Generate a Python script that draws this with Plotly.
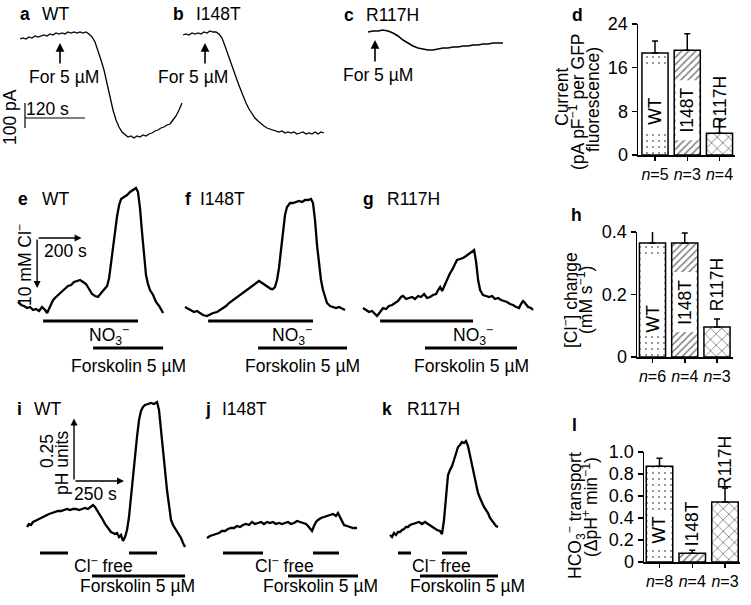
import plotly.graph_objects as go

W, H = 751, 605
FONT = "Liberation Sans, Arial, Helvetica, sans-serif"
FS = 17.5

# ---------------- data ----------------
# a-c: whole-cell current (pA) vs time (s); forskolin added at *_fsk_t
a_t = [0,6,12,18,24,30,36,42,48,54,60,66,72,78,84,90,96,102,108,114,120,126,132,138,144,150,156,162,168,174,180,186,192,198,204,210,216,222,228,234,240,246,252,258,264,270,276,282,288,294,300,306,312,318,324]
a_i = [0,4,0,8,4,12,8,12,16,12,20,16,24,20,24,20,28,24,28,24,28,24,28,20,8,-12,-44,-84,-124,-180,-236,-284,-324,-352,-372,-384,-392,-388,-396,-388,-392,-384,-388,-380,-376,-368,-364,-356,-352,-344,-340,-324,-308,-284,-256]
b_t = [0,6,12,18,24,30,36,42,48,54,60,66,72,78,84,90,96,102,108,114,120,126,132,138,144,150,156,162,168,174,180,186,192,198,204,210,216,222,228,234,240,246,252,258,264,270,276,282]
b_i = [16,20,16,24,20,24,20,28,24,32,28,28,20,4,-28,-64,-96,-128,-164,-196,-228,-256,-280,-300,-316,-328,-340,-348,-356,-360,-364,-368,-372,-368,-376,-372,-376,-372,-380,-376,-372,-380,-376,-380,-372,-380,-372,-376]
c_t = [0,10,20,30,40,50,60,70,80,90,100,110,120,130,140,150,160,170,180,190,200,210,220,230,240,250,260,270]
c_i = [28,32,32,36,32,24,12,-4,-16,-28,-36,-40,-44,-44,-40,-36,-36,-32,-32,-28,-28,-24,-24,-20,-20,-16,-16,-16]
a_fsk_t, b_fsk_t, c_fsk_t = 80, 44, 14

# d: current density
groups = ["WT", "I148T", "R117H"]
d_mean = [18.7, 19.2, 4.0]
d_sem = [2.2, 3.0, 2.6]
d_n = [5, 3, 4]

# e-g: [Cl-] change (mM) vs time (s)
e_t = [0,14,27,41,54,68,81,95,108,122,131,144,158,171,185,198,212,225,239,252,266,279,293,306,320,333,347,360,374,387,401,410,419,428,437,446,455,464,477,491,504,518,531,540,549,558,567,576,585,594,608,621,635,644,653]
e_cl = [3.6,3.0,2.8,2.4,2.6,2.0,2.2,1.8,2.6,2.0,1.4,2.8,4.0,4.6,5.2,5.8,6.2,6.8,7.0,7.6,7.8,8.0,7.6,7.2,6.2,5.2,4.8,4.6,5.4,6.0,6.8,8.4,11.6,15.0,18.4,20.8,23.0,24.2,24.6,25.0,25.6,26.0,26.4,25.6,22.4,17.6,12.4,9.0,7.2,6.0,5.0,3.6,2.8,2.0,1.4]
f_t = [0,14,27,41,54,68,81,99,113,126,144,158,171,185,198,216,230,243,257,270,284,297,311,324,333,347,360,374,387,396,405,414,423,432,441,450,459,473,486,500,513,527,540,554,567,576,585,594,603,612,621,630,639,653,666,680,693,707,720]
f_cl = [2.6,2.2,2.0,1.6,1.8,1.4,1.0,0.8,1.2,1.4,1.6,2.0,2.4,2.8,3.4,4.0,4.4,4.8,5.2,5.8,6.2,6.6,7.0,7.6,7.8,7.4,7.0,6.6,6.2,6.2,6.6,8.0,10.4,14.0,17.6,21.0,22.6,23.4,23.4,23.6,23.8,23.6,24.0,24.0,24.2,23.4,20.0,15.0,11.0,8.0,6.0,4.4,3.4,2.8,2.6,2.4,2.6,2.2,2.0]
g_t = [0,14,27,41,54,63,77,90,104,117,131,144,158,171,180,194,207,221,234,248,261,275,288,302,315,329,338,347,356,365,374,383,392,401,414,423,437,450,464,477,491,500,509,518,527,540,554,567,581,594,608,621,635,648,662,675,689,702,711,720,729,743,756,765]
g_cl = [2.4,2.0,1.6,1.8,1.2,0.8,1.6,2.4,2.2,2.8,3.0,3.4,3.8,4.6,4.8,4.2,4.4,4.6,4.2,4.8,4.6,5.2,4.4,4.6,5.0,5.2,6.0,6.6,5.8,6.8,7.8,8.6,9.4,10.0,11.4,12.0,12.2,12.4,12.8,13.2,13.6,14.0,11.6,8.0,6.0,5.0,4.8,4.6,4.8,4.2,4.4,4.0,3.8,3.6,3.2,3.0,2.6,2.4,3.2,3.8,3.4,2.6,2.4,2.0]
e_no3, e_fsk = [113, 540], [338, 653]
f_no3, f_fsk = [104, 576], [329, 729]
g_no3, g_fsk = [77, 495], [279, 693]

# h: Cl- change rate
h_mean = [0.365, 0.365, 0.096]
h_sem = [0.038, 0.032, 0.026]
h_n = [6, 4, 3]

# i-k: intracellular pH change vs time (s)
i_t = [0,10,20,30,40,50,65,80,95,110,125,140,155,170,185,200,215,230,245,260,275,290,305,320,330,340,350,360,370,380,390,400,410,420,430,440,450,460,470,480,490,500,510,520,530,540,550,560,570,580,590,605,620,635,650,660,670,680,690,700,710,720,730,740,750,760,770,780,790]
i_ph = [0.092,0.104,0.100,0.112,0.116,0.120,0.128,0.132,0.140,0.144,0.148,0.152,0.156,0.156,0.160,0.164,0.160,0.164,0.164,0.160,0.164,0.168,0.164,0.176,0.180,0.172,0.160,0.144,0.132,0.120,0.104,0.092,0.084,0.072,0.068,0.064,0.068,0.052,0.060,0.036,0.052,0.080,0.132,0.220,0.308,0.392,0.452,0.520,0.556,0.572,0.580,0.584,0.588,0.584,0.592,0.560,0.480,0.372,0.300,0.240,0.180,0.120,0.100,0.088,0.076,0.060,0.048,0.028,0.012]
j_t = [0,15,30,45,60,75,90,105,120,135,150,165,180,195,210,225,240,255,270,285,300,315,330,345,360,375,390,405,420,435,450,465,480,495,505,515,525,535,545,555,570,585,600,615,630,645,655,665,675,685,700,715,730,750]
j_ph = [0.048,0.056,0.060,0.064,0.068,0.076,0.076,0.084,0.088,0.088,0.096,0.092,0.100,0.104,0.100,0.112,0.104,0.108,0.112,0.104,0.112,0.108,0.112,0.104,0.108,0.104,0.108,0.112,0.104,0.108,0.116,0.112,0.108,0.104,0.096,0.088,0.076,0.096,0.112,0.120,0.128,0.132,0.136,0.140,0.144,0.136,0.148,0.132,0.112,0.100,0.096,0.092,0.088,0.088]
k_t = [0,10,20,30,40,50,60,70,80,90,100,115,130,145,160,175,190,205,220,235,250,260,270,280,290,300,310,320,330,340,350,360,370,380,390,400,410,420,430,440,450,460,470,480,490,500,510,520,530,540]
k_ph = [0.060,0.052,0.068,0.060,0.072,0.072,0.080,0.084,0.092,0.092,0.100,0.104,0.108,0.112,0.104,0.112,0.104,0.096,0.088,0.080,0.076,0.064,0.120,0.220,0.300,0.320,0.336,0.360,0.392,0.412,0.420,0.432,0.428,0.436,0.416,0.380,0.340,0.300,0.260,0.228,0.208,0.188,0.172,0.160,0.148,0.128,0.116,0.108,0.096,0.092]
i_clfree, i_fsk = [[65, 205], [510, 650]], [325, 790]
j_clfree, j_fsk = [[80, 280], [530, 660]], [405, 755]
k_clfree, k_fsk = [[40, 105], [260, 385]], [150, 540]

# l: HCO3- transport
l_mean = [0.87, 0.08, 0.545]
l_sem = [0.073, 0.027, 0.127]
l_n = [8, 4, 3]

# scale bars
sb_a_t, sb_a_i = 120, 100        # 120 s, 100 pA
sb_e_t, sb_e_cl = 200, 10        # 200 s, 10 mM
sb_i_t, sb_i_ph = 250, 0.25      # 250 s, 0.25 pH

# ---------------- layout helpers ----------------
def xr(x0, s):
    return [(0 - x0) * s, (W - x0) * s]

def yr(y0, s):
    return [(y0 - H) * s, y0 * s]

def P(x, y):
    return x / W, 1 - y / H

fig = go.Figure()
layout = dict(width=W, height=H, margin=dict(l=0, r=0, t=0, b=0, pad=0, autoexpand=False),
              paper_bgcolor="white", plot_bgcolor="rgba(0,0,0,0)",
              showlegend=False, font=dict(family=FONT, size=FS, color="black"))
shapes, annots = [], []

hidden = dict(visible=False, fixedrange=True, domain=[0, 1], automargin=False)
rows = {"y": (39, 4), "y2": (320, 0.2), "y3": (550, 0.004)}
row_anchor = {"y": "x", "y2": "x4", "y3": "x7"}
for k, (y0, s) in rows.items():
    layout["yaxis" + k[1:]] = dict(hidden, range=yr(y0, s), anchor=row_anchor[k])

panels = [
    ("x", "y", a_t, a_i, 20, 2, 1.3),
    ("x2", "y", b_t, b_i, 183, 2, 1.3),
    ("x3", "y", c_t, c_i, 368, 2, 1.6),
    ("x4", "y2", e_t, e_cl, 18, 4.5, 2.3),
    ("x5", "y2", f_t, f_cl, 185, 4.5, 2.3),
    ("x6", "y2", g_t, g_cl, 363, 4.5, 2.3),
    ("x7", "y3", i_t, i_ph, 27, 5, 2.3),
    ("x8", "y3", j_t, j_ph, 207, 5, 2.3),
    ("x9", "y3", k_t, k_ph, 390, 5, 2.3),
]
for xa, ya, t, v, x0, s, lw in panels:
    layout["xaxis" + xa[1:]] = dict(hidden, range=xr(x0, s), anchor=ya)
    fig.add_trace(go.Scatter(x=t, y=v, xaxis=xa, yaxis=ya, mode="lines",
                             line=dict(color="black", width=lw), hoverinfo="skip"))

def arrow(xa, ya, x0, y0, x1, y1, size=1.0, width=1.4):
    annots.append(dict(x=x1, y=y1, ax=x0, ay=y0, xref=xa, yref=ya, axref=xa, ayref=ya,
                       text="", showarrow=True, arrowhead=2, arrowsize=size, arrowwidth=width,
                       arrowcolor="black", standoff=0, startstandoff=0))

def txt(s, x, y, size=FS, angle=0, xanchor="center", yanchor="middle", xref="paper", yref="paper"):
    if xref == "paper":
        x, y = P(x, y)
    annots.append(dict(text=s, x=x, y=y, xref=xref, yref=yref, showarrow=False,
                       textangle=angle, xanchor=xanchor, yanchor=yanchor,
                       font=dict(family=FONT, size=size, color="black")))

def period(xa, t0, t1, ypx):
    y = 1 - ypx / H
    shapes.append(dict(type="line", xref=xa, yref="paper", x0=t0, x1=t1, y0=y, y1=y,
                       line=dict(color="black", width=3)))

# ---- row 1 ----
for xa, tt, lab_l, lab_r, fy, tail, tip in [
        ("x", a_fsk_t, (25, 14, "a"), (56, 14, "WT"), (64, 77), -104, -16),
        ("x2", b_fsk_t, (178, 14, "b"), (218, 14, "I148T"), (193, 77), -104, -16),
        ("x3", c_fsk_t, (349, 15, "c"), (393, 15, "R117H"), (378, 75), -96, -4)]:
    arrow(xa, "y", tt, tail, tt, tip, size=1.1, width=1.6)
    txt("For 5 µM", fy[0], fy[1])
    txt("<b>%s</b>" % lab_l[2], lab_l[0], lab_l[1])
    txt(lab_r[2], lab_r[0], lab_r[1])

sb_t0, sb_i0 = 10, -316
shapes.append(dict(type="line", xref="x", yref="y", x0=sb_t0, x1=sb_t0 + sb_a_t, y0=sb_i0, y1=sb_i0,
                   line=dict(color="black", width=1.2)))
shapes.append(dict(type="line", xref="x", yref="y", x0=sb_t0, x1=sb_t0, y0=sb_i0 + 60, y1=sb_i0 + 60 - sb_a_i,
                   line=dict(color="black", width=1.2)))
txt("%d s" % sb_a_t, 47, 109)
txt("%d pA" % sb_a_i, 10, 117, angle=-90)

# ---- row 2 ----
for xa, no3, fsk, lab_l, lab_r, no3x, fx in [
        ("x4", e_no3, e_fsk, (23, 199, "e"), (56, 199, "WT"), 109, 128),
        ("x5", f_no3, f_fsk, (188, 199, "f"), (222, 199, "I148T"), 292, 302),
        ("x6", g_no3, g_fsk, (368, 199, "g"), (413, 199, "R117H"), 473, 471)]:
    period(xa, no3[0], no3[1], 321)
    period(xa, fsk[0], fsk[1], 348)
    txt("NO<sub>3</sub><sup>−</sup>", no3x, 335)
    txt("Forskolin 5 µM", fx, 366)
    txt("<b>%s</b>" % lab_l[2], lab_l[0], lab_l[1])
    txt(lab_r[2], lab_r[0], lab_r[1])

e_t0, e_v0 = 86, 16.4
arrow("x4", "y2", e_t0, e_v0, e_t0, e_v0 - sb_e_cl)
arrow("x4", "y2", e_t0, e_v0, e_t0 + sb_e_t, e_v0)
txt("%d s" % sb_e_t, 65, 251)
txt("%d mM Cl<sup>−</sup>" % sb_e_cl, 24, 265, angle=-90)

# ---- row 3 ----
for xa, clf, fsk, lab_l, lab_r, clx, fx in [
        ("x7", i_clfree, i_fsk, (19, 409, "i"), (48, 409, "WT"), 104, 137),
        ("x8", j_clfree, j_fsk, (208, 409, "j"), (244, 409, "I148T"), 284, 320),
        ("x9", k_clfree, k_fsk, (387, 409, "k"), (433, 409, "R117H"), 441, 467)]:
    for seg in clf:
        period(xa, seg[0], seg[1], 553)
    period(xa, fsk[0], fsk[1], 576)
    txt("Cl<sup>−</sup> free", clx, 565)
    txt("Forskolin 5 µM", fx, 586)
    txt("<b>%s</b>" % lab_l[2], lab_l[0], lab_l[1])
    txt(lab_r[2], lab_r[0], lab_r[1])

i_t0, i_v0 = 235, 0.276
arrow("x7", "y3", i_t0, i_v0, i_t0, i_v0 + sb_i_ph)
arrow("x7", "y3", i_t0, i_v0, i_t0 + sb_i_t, i_v0)
txt("%.2f" % sb_i_ph, 47, 451, angle=-90)
txt("pH units", 62, 463, angle=-90)
txt("%d s" % sb_i_t, 95, 494)

# ---- bar charts ----
patterns = dict(shape=[".", "/", "x"], size=[6, 5, 8], solidity=[0.1, 0.3, 0.2],
                fgcolor="black", bgcolor="white")

def bar_panel(xa, ya, means, sems, ns, c0, sp, left, right, bottom, top, yrange, tickvals, ticktext,
              letter, letter_pos, titles, labels, bands):
    layout["xaxis" + xa[1:]] = dict(domain=[left / W, right / W], range=[(left - c0) / sp, (right - c0) / sp],
                                    anchor=ya, showline=True, linecolor="black", linewidth=1.5,
                                    ticks="outside", ticklen=4, tickwidth=1.5, tickcolor="black",
                                    tickvals=[0, 1, 2], ticktext=["<i>n</i>=%d" % n for n in ns],
                                    tickfont=dict(family=FONT, size=16), showgrid=False, zeroline=False,
                                    fixedrange=True, automargin=False)
    layout["yaxis" + ya[1:]] = dict(domain=[1 - bottom / H, 1 - top / H], range=yrange, anchor=xa,
                                    showline=True, linecolor="black", linewidth=1.5,
                                    ticks="outside", ticklen=5, tickwidth=1.5, tickcolor="black",
                                    tickvals=tickvals, ticktext=ticktext,
                                    tickfont=dict(family=FONT, size=18), showgrid=False, zeroline=False,
                                    fixedrange=True, automargin=False)
    fig.add_trace(go.Bar(x=[0, 1, 2], y=means, xaxis=xa, yaxis=ya, width=0.81,
                         marker=dict(color="white", line=dict(color="black", width=1.5), pattern=patterns),
                         error_y=dict(type="data", symmetric=False, array=sems, arrayminus=[0, 0, 0],
                                      color="black", thickness=1.5, width=3),
                         hoverinfo="skip"))
    for i, (b0, b1) in bands.items():
        shapes.append(dict(type="rect", xref=xa, yref=ya, x0=i - 0.36, x1=i + 0.36, y0=b0, y1=b1,
                           fillcolor="white", line=dict(width=0), layer="above"))
    for i, (lab, yv) in enumerate(zip(groups, labels)):
        txt(lab, i, yv, angle=-90, xref=xa, yref=ya)
    txt("<b>%s</b>" % letter, letter_pos[0], letter_pos[1])
    for s, x, y in titles:
        txt(s, x, y, angle=-90)

bar_panel("x10", "y4", d_mean, d_sem, d_n, 655, 32.25, 638, 735, 155, 24, [0, 24],
          [0, 8, 16, 24], ["0", "8", "16", "24"], "d", (577, 15),
          [("Current", 562, 97), ("(pA pF<sup>−1</sup> per GFP", 577, 102), ("fluorescence)", 593, 100)],
          [8.1, 8.2, 9.6], {0: (4.0, 16.1), 1: (2.7, 13.7)})
bar_panel("x11", "y5", h_mean, h_sem, h_n, 652.5, 32.25, 637, 733, 357, 232, [0, 0.4],
          [0, 0.2, 0.4], ["0", "0.2", "0.4"], "h", (576, 215),
          [("[Cl<sup>−</sup>] change", 570, 300), ("(mM s<sup>−1</sup>)", 585, 300)],
          [0.122, 0.176, 0.230], {0: (0.07, 0.317), 1: (0.08, 0.272)})
bar_panel("x12", "y6", l_mean, l_sem, l_n, 659.5, 32.75, 644, 740, 562, 452, [0, 1.0],
          [0, 0.2, 0.4, 0.6, 0.8, 1.0], ["0", "0.2", "0.4", "0.6", "0.8", "1.0"], "l", (574, 425),
          [("HCO<sub>3</sub><sup>−</sup> transport", 575, 516), ("(ΔpH<sup>+</sup> min<sup>−1</sup>)", 590, 507)],
          [0.29, 0.345, 0.90], {0: (0.145, 0.455)})

layout["shapes"] = shapes
layout["annotations"] = annots
fig.update_layout(**layout)
fig.write_html("out.html", config={"displayModeBar": False, "staticPlot": True},
               post_script="document.body.style.margin='0';")
